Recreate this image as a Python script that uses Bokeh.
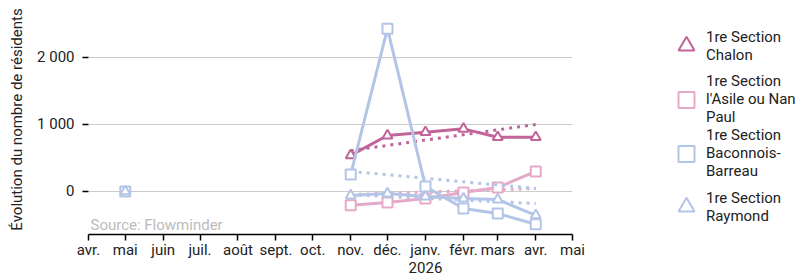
import pandas as pd
from bokeh.plotting import figure
from bokeh.layouts import row
from bokeh.models import (FixedTicker, Legend, LegendItem, Label, Range1d,
                          ColumnDataSource)
from bokeh.embed import file_html
from bokeh.resources import INLINE

nan = float("nan")

# ---- data ----
tick_months = ["2025-04-01", "2025-05-01", "2025-06-01", "2025-07-01", "2025-08-01",
               "2025-09-01", "2025-10-01", "2025-11-01", "2025-12-01", "2026-01-01",
               "2026-02-01", "2026-03-01", "2026-04-01", "2026-05-01"]
tick_labels = ["avr.", "mai", "juin", "juil.", "août", "sept.", "oct.", "nov.",
               "déc.", "janv.\n2026", "févr.", "mars", "avr.", "mai"]

months = ["2025-05-01", "2025-06-01", "2025-07-01", "2025-08-01", "2025-09-01",
          "2025-10-01", "2025-11-01", "2025-12-01", "2026-01-01", "2026-02-01",
          "2026-03-01", "2026-04-01"]
chalon = [nan, nan, nan, nan, nan, nan, 540, 835, 885, 935, 810, 810]
asile = [nan, nan, nan, nan, nan, nan, -205, -165, -105, -15, 60, 300]
baconnois = [0, nan, nan, nan, nan, nan, 255, 2430, 75, -255, -330, -490]
raymond = [0, nan, nan, nan, nan, nan, -60, -30, -75, -105, -120, -355]

trend_months = ["2025-11-01", "2026-04-01"]
chalon_trend = [610, 1000]
asile_trend = [-45, 45]
baconnois_trend = [300, 45]
raymond_trend = [-50, -180]

y_ticks = [0, 1000, 2000]
y_labels = ["0", "1 000", "2 000"]

series = [
    ("1re Section\nChalon", chalon, chalon_trend, "triangle", "#c0649a"),
    ("1re Section\nl'Asile ou Nan\nPaul", asile, asile_trend, "square", "#e5a9c9"),
    ("1re Section\nBaconnois-\nBarreau", baconnois, baconnois_trend, "square", "#b3c5e6"),
    ("1re Section\nRaymond", raymond, raymond_trend, "triangle", "#b3c5e6"),
]

# ---- main figure ----
FONT = "Roboto"
FS = "15px"
x_start = pd.Timestamp(tick_months[0])
x_end = pd.Timestamp(tick_months[-1])

p = figure(width=600, height=279, x_axis_type="datetime",
           x_range=Range1d(x_start, x_end), y_range=Range1d(-642, 2791),
           output_backend="svg", toolbar_location=None,
           min_border_left=88, min_border_right=28, min_border_top=4,
           min_border_bottom=0)
p.outline_line_color = None
p.background_fill_color = "white"

tick_ms = [pd.Timestamp(t).value / 1e6 for t in tick_months]
p.xaxis.ticker = FixedTicker(ticks=tick_ms)
p.xaxis.major_label_overrides = {t: l for t, l in zip(tick_ms, tick_labels)}
p.xaxis.axis_line_color = "black"
p.xaxis.axis_line_width = 1.5
p.xaxis.major_tick_line_color = "black"
p.xaxis.major_tick_line_width = 1.5
p.xaxis.major_tick_out = 6
p.xaxis.major_tick_in = 0
p.xaxis.minor_tick_line_color = None
p.xaxis.major_label_standoff = 0
p.xaxis.major_label_text_font = FONT
p.xaxis.major_label_text_font_size = FS
p.xaxis.major_label_text_line_height = 1.0
p.xaxis.major_label_text_color = "#222222"
p.xgrid.grid_line_color = None

p.yaxis.ticker = FixedTicker(ticks=y_ticks)
p.yaxis.major_label_overrides = {t: l for t, l in zip(y_ticks, y_labels)}
p.yaxis.axis_line_color = None
p.yaxis.major_tick_line_color = "black"
p.yaxis.major_tick_line_width = 1.5
p.yaxis.major_tick_out = 6
p.yaxis.major_tick_in = 0
p.yaxis.minor_tick_line_color = None
p.yaxis.major_label_standoff = 8
p.yaxis.major_label_text_font = FONT
p.yaxis.major_label_text_font_size = FS
p.yaxis.major_label_text_color = "#222222"
p.yaxis.axis_label = "Évolution du nombre de résidents"
p.yaxis.axis_label_text_font = FONT
p.yaxis.axis_label_text_font_size = FS
p.yaxis.axis_label_text_font_style = "normal"
p.yaxis.axis_label_text_color = "#222222"
p.yaxis.axis_label_standoff = 8
p.ygrid.ticker = FixedTicker(ticks=y_ticks)
p.ygrid.grid_line_color = "#cccccc"
p.ygrid.grid_line_width = 1

month_dt = pd.to_datetime(months)
trend_dt = pd.to_datetime(trend_months)

for label, vals, trend, marker, color in series:
    src = ColumnDataSource(dict(x=month_dt, y=vals))
    p.line(trend_dt, trend, line_color=color, line_width=3, line_dash="3 5")
    p.line("x", "y", source=src, line_color=color, line_width=3)
    p.scatter("x", "y", source=src, marker=marker, size=10, line_color=color,
              line_width=2, fill_color="white")

p.add_layout(Label(x=2, y=1, x_units="screen", y_units="screen",
                   text="Source: Flowminder", text_font=FONT, text_font_size=FS,
                   text_color="#bbbbbb", text_baseline="bottom"))

# ---- legend figure ----
lf = figure(width=196, height=279, x_range=Range1d(0, 1), y_range=Range1d(0, 1),
            output_backend="svg", toolbar_location=None,
            x_axis_location=None, y_axis_location=None,
            min_border=0, min_border_left=0, min_border_right=0,
            min_border_top=0, min_border_bottom=0)
lf.outline_line_color = None
lf.xgrid.grid_line_color = None
lf.ygrid.grid_line_color = None

items = []
for label, vals, trend, marker, color in series:
    # off-range point: only used to draw the legend glyph
    r = lf.scatter(x=[-10], y=[-10], marker=marker, size=20, line_color=color,
                   line_width=2, fill_color="white")
    items.append(LegendItem(label=label, renderers=[r]))

legend = Legend(items=items, location=(66, 1), margin=0, padding=0, spacing=0,
                glyph_width=40, glyph_height=53, label_standoff=0,
                label_text_font=FONT, label_text_font_size=FS,
                label_text_line_height=1.0,
                label_text_color="#222222", border_line_color=None,
                background_fill_alpha=0)
lf.add_layout(legend)

layout = row(p, lf)
open("out.html", "w").write(file_html(layout, INLINE))
